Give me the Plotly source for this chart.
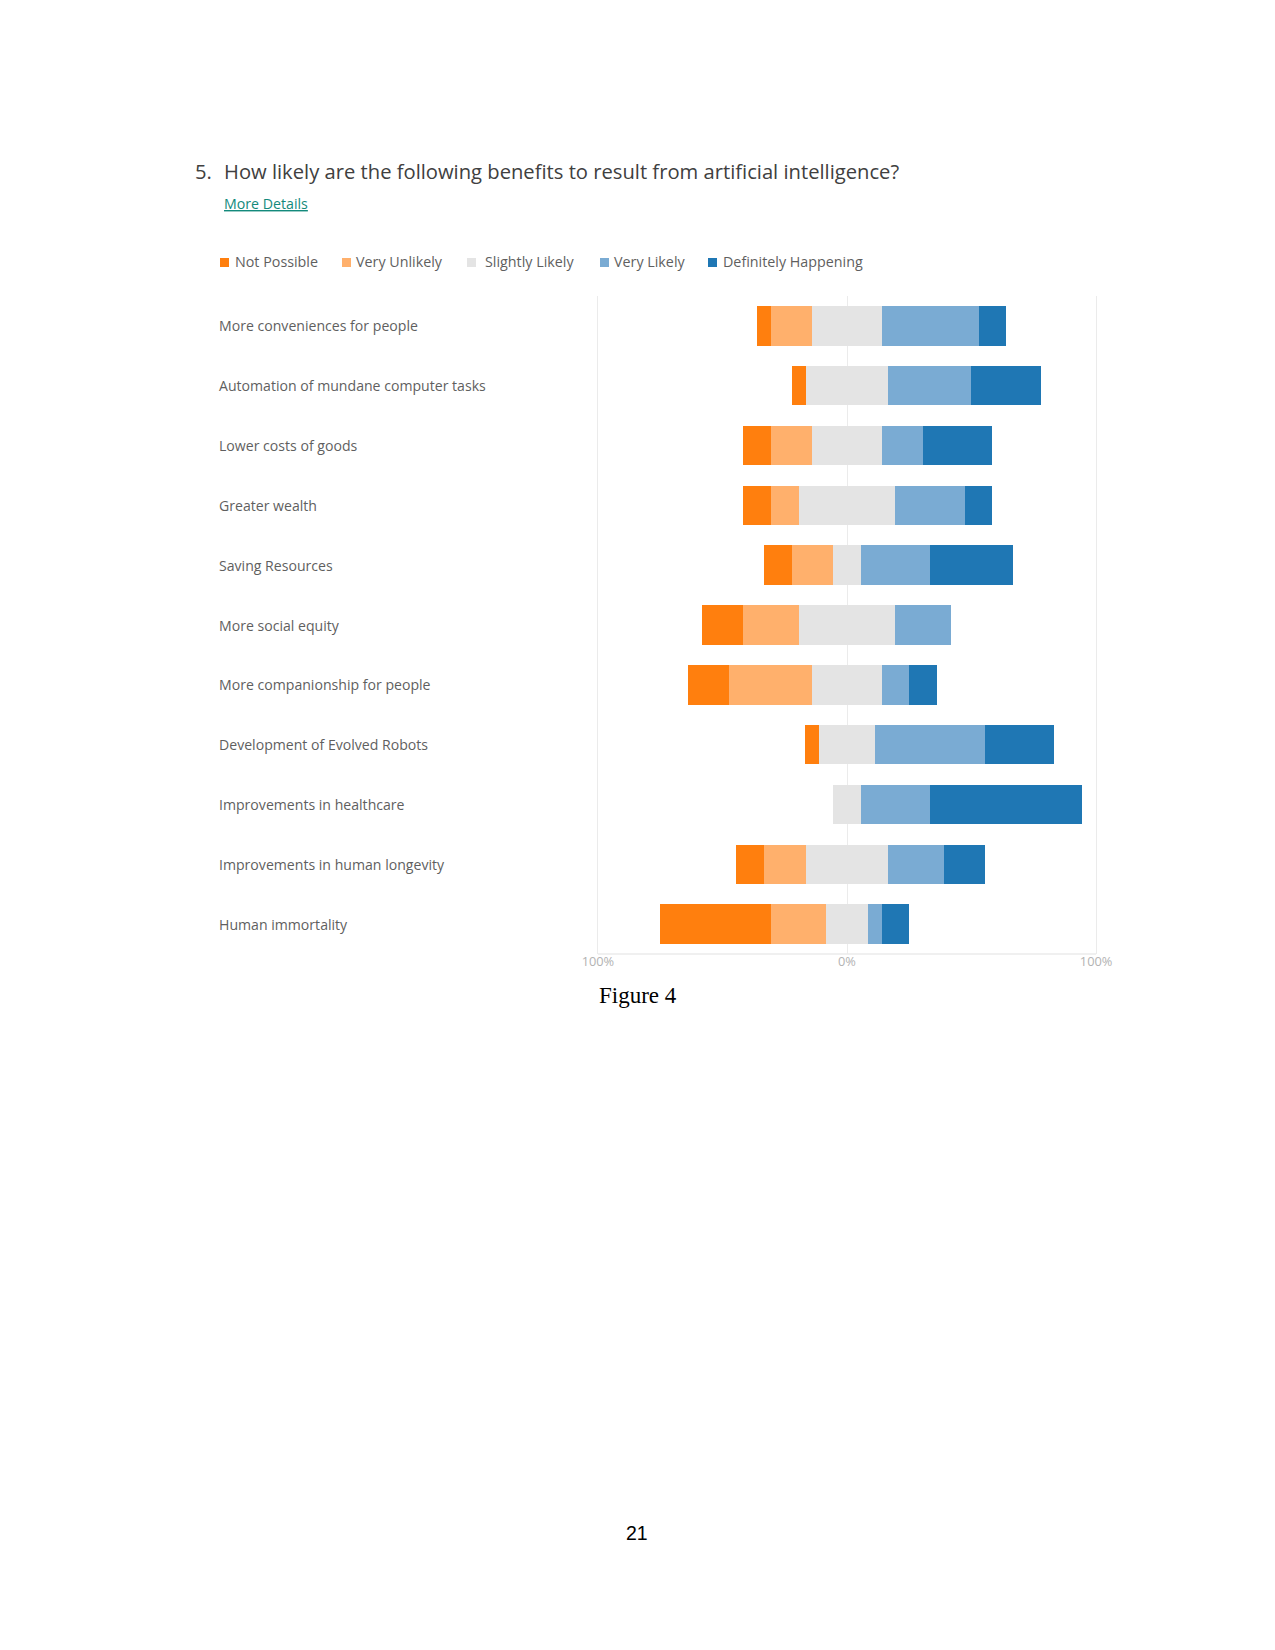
import plotly.graph_objects as go

# ---------------- data ----------------
categories = [
    "More conveniences for people",
    "Automation of mundane computer tasks",
    "Lower costs of goods",
    "Greater wealth",
    "Saving Resources",
    "More social equity",
    "More companionship for people",
    "Development of Evolved Robots",
    "Improvements in healthcare",
    "Improvements in human longevity",
    "Human immortality",
]
series_names = ["Not Possible", "Very Unlikely", "Slightly Likely", "Very Likely", "Definitely Happening"]
not_possible = [5.6, 5.6, 11.1, 11.1, 11.1, 16.7, 16.7, 5.6, 0.0, 11.1, 44.4]
very_unlikely = [16.7, 0.0, 16.7, 11.1, 16.7, 22.2, 33.3, 0.0, 0.0, 16.7, 22.2]
slightly_likely = [27.8, 33.3, 27.8, 38.9, 11.1, 38.9, 27.8, 22.2, 11.1, 33.3, 16.7]
very_likely = [38.9, 33.3, 16.7, 27.8, 27.8, 22.2, 11.1, 44.4, 27.8, 22.2, 5.6]
definitely = [11.1, 27.8, 27.8, 11.1, 33.3, 0.0, 11.1, 27.8, 61.1, 16.7, 11.1]
tick_vals = [-100, 0, 100]
tick_text = ["100%", "0%", "100%"]

colors = ["#ff7f0e", "#ffb06c", "#e4e4e4", "#7aabd3", "#1f77b4"]
series = [not_possible, very_unlikely, slightly_likely, very_likely, definitely]

# ---------------- layout geometry (pixels) ----------------
W, H = 1275, 1650
L, R = 573, 1121
T, B = 296, 954
XR = [-110, 110]


def px(x):
    return (x - L) / (R - L)


def py(y):
    return 1 - (y - T) / (B - T)


fig = go.Figure()

# diverging bases: neutral category centred on 0
starts = [-(a + b + c / 2) for a, b, c in zip(not_possible, very_unlikely, slightly_likely)]
cum = list(starts)
for name, vals, col in zip(series_names, series, colors):
    fig.add_trace(go.Bar(
        y=categories, x=vals, base=cum, orientation="h", name=name,
        marker=dict(color=col, line=dict(width=0)), width=0.66,
        showlegend=False, hoverinfo="skip",
    ))
    cum = [c + v for c, v in zip(cum, vals)]

annotations = []
shapes = []

# category labels (left aligned)
for cat in categories:
    annotations.append(dict(
        x=px(217), xref="paper", y=cat, yref="y", text=cat, showarrow=False,
        xanchor="left", yanchor="middle",
        font=dict(family="Open Sans", size=14.1, color="#5f5f5f"),
    ))

# title + link
annotations.append(dict(x=px(193), xref="paper", y=py(171), yref="paper", text="5.",
                        showarrow=False, xanchor="left", yanchor="middle",
                        font=dict(family="Open Sans", size=20.2, color="#404040")))
annotations.append(dict(x=px(222), xref="paper", y=py(171), yref="paper",
                        text="How likely are the following benefits to result from artificial intelligence?",
                        showarrow=False, xanchor="left", yanchor="middle",
                        font=dict(family="Open Sans", size=20.2, color="#404040")))
annotations.append(dict(x=px(222), xref="paper", y=py(204), yref="paper",
                        text="<u>More Details</u>", showarrow=False, xanchor="left", yanchor="middle",
                        font=dict(family="Open Sans", size=14.2, color="#138a7c")))

# legend (manual)
sq_x = [220, 342, 467, 600, 708]
tx_x = [233, 354, 483, 612, 721]
for name, col, sx, tx in zip(series_names, colors, sq_x, tx_x):
    shapes.append(dict(type="rect", xref="paper", yref="paper",
                       x0=px(sx), x1=px(sx + 9), y0=py(267), y1=py(258),
                       fillcolor=col, line=dict(width=0)))
    annotations.append(dict(x=px(tx), xref="paper", y=py(262), yref="paper", text=name,
                            showarrow=False, xanchor="left", yanchor="middle",
                            font=dict(family="Open Sans", size=14.3, color="#5f5f5f")))

# bottom axis line from -100% to 100%
shapes.append(dict(type="line", xref="x", yref="paper", x0=-100, x1=100, y0=0, y1=0,
                   line=dict(color="#ebebeb", width=1.5), layer="below"))

# figure caption and page number
annotations.append(dict(x=px(638), xref="paper", y=py(995), yref="paper", text="Figure 4",
                        showarrow=False, xanchor="center", yanchor="middle",
                        font=dict(family="Liberation Serif", size=23, color="#000000")))
annotations.append(dict(x=px(637), xref="paper", y=py(1533), yref="paper", text="21",
                        showarrow=False, xanchor="center", yanchor="middle",
                        font=dict(family="Liberation Sans", size=19.5, color="#000000")))

fig.update_layout(
    width=W, height=H,
    margin=dict(l=L, r=W - R, t=T, b=H - B, pad=0),
    paper_bgcolor="white", plot_bgcolor="white",
    barmode="overlay", bargap=0,
    showlegend=False,
    annotations=annotations, shapes=shapes,
    xaxis=dict(range=XR, tickvals=tick_vals, ticktext=tick_text, showgrid=True,
               gridcolor="#ebebeb", gridwidth=1, zeroline=False, showline=False,
               ticks="", ticklabelstandoff=-2,
               tickfont=dict(family="Open Sans", size=12.8, color="#b3b3b3"),
               fixedrange=True),
    yaxis=dict(categoryorder="array", categoryarray=categories, autorange="reversed",
               showticklabels=False, showgrid=False, zeroline=False, showline=False,
               ticks="", fixedrange=True),
)

fig.write_html("out.html")
